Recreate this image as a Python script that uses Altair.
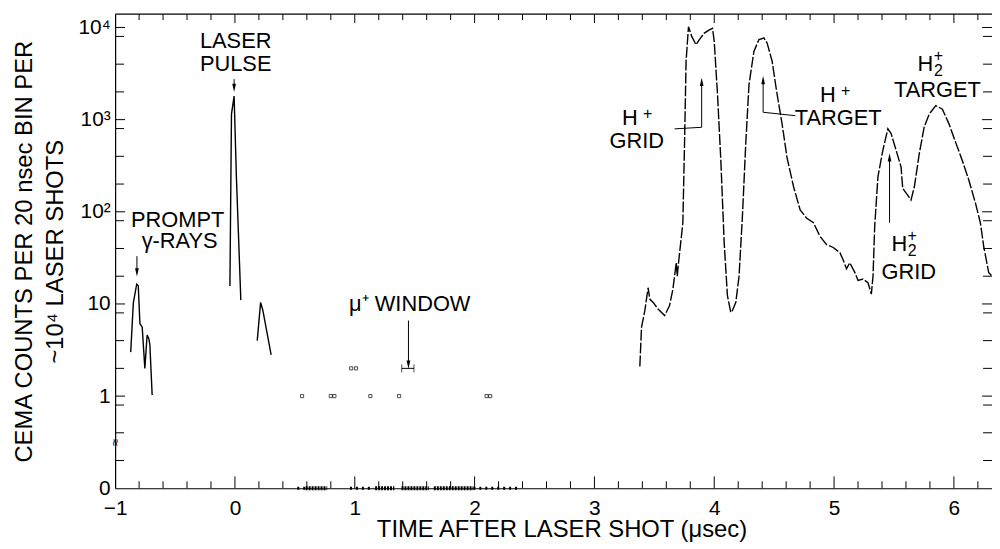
import altair as alt
import numpy as np
import pandas as pd

FONT = "Liberation Sans"
W, H = 884, 478

# ---------------- measured spectrum: time (µs) and counts per 20 ns bin ----------------
gamma_t = [-0.870, -0.848, -0.820, -0.807, -0.793, -0.774, -0.752, -0.733, -0.719, -0.710, -0.691]
gamma_c = [3.0, 10.3, 16.4, 15.7, 6.1, 5.6, 2.0, 4.6, 4.2, 3.6, 1.03]

laser_t = [-0.042, -0.029, -0.007, 0.012, 0.049]
laser_c = [15.7, 1150, 1800, 240, 11]

bump_t = [0.186, 0.214, 0.233, 0.302]
bump_c = [4.0, 10.4, 8.5, 2.8]

ion_t = [3.379, 3.393, 3.421, 3.448, 3.462, 3.490, 3.531, 3.586, 3.627, 3.655,
         3.683, 3.691, 3.702, 3.738, 3.752, 3.765, 3.785, 3.812, 3.848, 3.876,
         3.917, 3.959, 3.986, 4.000, 4.027, 4.055, 4.083, 4.110, 4.138, 4.152,
         4.180, 4.207, 4.235, 4.263, 4.290, 4.331, 4.373, 4.414, 4.441, 4.483,
         4.524, 4.566, 4.607, 4.662, 4.717, 4.772, 4.828, 4.883, 4.938, 4.993,
         5.049, 5.076, 5.104, 5.131, 5.173, 5.200, 5.242, 5.283, 5.311, 5.325,
         5.339, 5.366, 5.407, 5.449, 5.476, 5.518, 5.559, 5.573, 5.614, 5.642,
         5.670, 5.711, 5.752, 5.794, 5.849, 5.904, 5.959, 6.014, 6.070, 6.125,
         6.180, 6.221, 6.249, 6.290, 6.318]
ion_c = [2.1, 5.6, 8.5, 15, 11.3, 10.4, 8.8, 7.5, 9.6, 14.5,
         28, 20, 28, 76, 550, 4300, 10200, 8000, 6500, 7400,
         8700, 9400, 9800, 7000, 1900, 360, 46, 12.3, 8.1, 8.5,
         10.4, 20, 89, 550, 2400, 5500, 7400, 7700, 6800, 4300,
         1900, 900, 390, 187, 105, 85, 76, 54, 44, 41,
         36, 30, 24, 28, 22, 18, 18.6, 17, 12.8, 20,
         69, 240, 465, 795, 705, 465, 307, 179, 152, 134,
         187, 427, 830, 1150, 1420, 1300, 900, 570, 360, 220,
         124, 76, 42, 22, 20]

# sparse counts inside the muon window region
ones_t = [0.56, 0.80, 0.83, 1.13, 1.37, 2.10, 2.13]
twos_t = [0.97, 1.01]
zero_dense_start = [0.59, 1.17, 1.39, 1.66]
zero_dense_end = [0.77, 1.33, 1.62, 1.99]
zero_sparse_start = [0.52, 0.96, 1.99]
zero_sparse_end = [0.59, 1.16, 2.37]
window_start, window_end, window_level = 1.392, 1.494, 2

# ---------------- axes ----------------
x_domain = [-1, 6.318]
y_domain = [-1, 4.145]          # decades; zero counts drawn one decade below 1
x_major = [-1, 0, 1, 2, 3, 4, 5, 6]
x_minor = [-0.8, -0.6, -0.4, -0.2, 0.2, 0.4, 0.6, 0.8, 1.2, 1.4, 1.6, 1.8,
           2.2, 2.4, 2.6, 2.8, 3.2, 3.4, 3.6, 3.8, 4.2, 4.4, 4.6, 4.8,
           5.2, 5.4, 5.6, 5.8, 6.2]
y_major_counts = [1, 10, 100, 1000, 10000]
y_minor_counts = [0.2, 0.4, 0.8, 2, 4, 8, 20, 40, 80, 200, 400, 800, 2000, 4000, 8000]
y_label_pos = [-1, 0, 1, 2, 3, 4]
y_label_txt = ["0", "1", "10", "10²", "10³", "10⁴"]

# ---------------- annotations ----------------
ann_txt = ["LASER", "PULSE", "PROMPT", "γ-RAYS", "μ⁺ WINDOW", "H", "GRID", "H", "TARGET",
           "H", "GRID", "H", "TARGET"]
ann_t = [0.006, 0.006, -0.478, -0.462, 1.459, 3.296, 3.354, 4.948, 5.035,
         5.544, 5.623, 5.763, 5.863]
ann_c = [7060, 4055, 81, 48, 10, 1040, 590, 1830, 1050, 45, 22, 4055, 2075]
hplus_t = [3.296, 4.948]
hplus_c = [1040, 1830]
h2_t = [5.544, 5.763]
h2_c = [45, 4055]

arrow_id = ["laser", "laser", "prompt", "prompt", "mu", "mu",
            "hgrid", "hgrid", "hgrid", "htarget", "htarget", "htarget", "h2grid", "h2grid"]
arrow_t = [-0.007, -0.007, -0.818, -0.818, 1.448, 1.448,
           3.669, 3.895, 3.895, 4.676, 4.408, 4.408, 5.463, 5.463]
arrow_c = [2750, 2210, 33, 22, 6.6, 2.2,
           794, 826, 2565, 1104, 1202, 2690, 76, 389]
head_down_t = [-0.007, -0.818, 1.448]
head_down_c = [2210, 22, 2.2]
head_up_t = [3.895, 4.408, 5.463]
head_up_c = [2565, 2690, 389]


def dec(c):
    c = np.asarray(c, dtype=float)
    safe = np.where(c > 0, c, 1.0)
    return np.where(c > 0, np.log10(safe), -1.0)


label_expr = "".join(f"datum.value == {p} ? '{s}' : " for p, s in zip(y_label_pos, y_label_txt)) + "''"

x_axis = alt.Axis(values=x_major, format="d", ticks=False, grid=False, domain=True,
                  domainColor="black", domainWidth=1.2, labelFont=FONT, labelFontSize=21,
                  labelColor="black", labelPadding=9, labelFlush=False,
                  title="TIME AFTER LASER SHOT (μsec)", titleFont=FONT, titleFontSize=24,
                  titleFontWeight="normal", titleColor="black", titleBaseline="middle",
                  titleY=42, titleX=450)
y_axis = alt.Axis(values=y_label_pos, labelExpr=label_expr, ticks=False, grid=False, domain=True,
                  domainColor="black", domainWidth=1.2, labelFont=FONT, labelFontSize=21,
                  labelColor="black", labelPadding=5, labelFlush=False,
                  title=["CEMA COUNTS PER 20 nsec BIN PER", "~10⁴ LASER SHOTS"],
                  titleFont=FONT, titleFontSize=24, titleFontWeight="normal", titleColor="black",
                  titleAngle=270, titleBaseline="bottom", titleX=-79, titleY=H / 2,
                  titleLineHeight=31)

xs = alt.Scale(domain=x_domain, nice=False, zero=False)
ys = alt.Scale(domain=y_domain, nice=False, zero=False)


def X(f="t"):
    return alt.X(f"{f}:Q", scale=xs, axis=x_axis)


def Y(f="y"):
    return alt.Y(f"{f}:Q", scale=ys, axis=y_axis)


frames = []
for name, t, c in [("gamma", gamma_t, gamma_c), ("laser", laser_t, laser_c), ("bump", bump_t, bump_c)]:
    frames.append(pd.DataFrame({"t": t, "c": c, "seg": name}))
solid = pd.concat(frames, ignore_index=True)
solid["y"] = dec(solid["c"])
ion = pd.DataFrame({"t": ion_t, "c": ion_c, "seg": "ion"})
ion["y"] = dec(ion["c"])

base_line = alt.Chart(solid).mark_line(color="black", strokeWidth=1.4).encode(
    x=X(), y=Y(), detail="seg:N")
ion_line = alt.Chart(ion).mark_line(color="black", strokeWidth=1.4, strokeDash=[11, 2]).encode(
    x=X(), y=Y())

# sparse events
ev = pd.DataFrame({"t": ones_t + twos_t, "c": [1] * len(ones_t) + [2] * len(twos_t)})
ev["y"] = dec(ev["c"])
events = alt.Chart(ev).mark_point(shape="square", size=10, filled=False, color="black",
                                  strokeWidth=1).encode(x=X(), y=Y())
zd = pd.DataFrame({"t": zero_dense_start, "t2": zero_dense_end, "y": -1.0})
zeros_dense = alt.Chart(zd).mark_rule(color="black", strokeWidth=4, strokeDash=[2, 1]).encode(
    x=X(), x2="t2:Q", y=Y())
zs = pd.DataFrame({"t": zero_sparse_start, "t2": zero_sparse_end, "y": -1.0})
zeros_sparse = alt.Chart(zs).mark_rule(color="black", strokeWidth=3, strokeDash=[2, 4]).encode(
    x=X(), x2="t2:Q", y=Y())

# muon window bracket
wb = pd.DataFrame({"t": [window_start], "t2": [window_end], "y": dec([window_level])})
bracket = alt.Chart(wb).mark_rule(color="black", strokeWidth=1).encode(x=X(), x2="t2:Q", y=Y())
wc = pd.DataFrame({"t": [window_start, window_end], "y": list(dec([window_level, window_level]))})
caps = alt.Chart(wc).mark_point(shape="M0,-1L0,1", size=64, color="black", strokeWidth=1,
                                filled=False).encode(x=X(), y=Y())


# ticks (inward)
def vticks(vals, length, top):
    d = pd.DataFrame({"t": vals})
    y0, y1 = (0, length) if top else (H, H - length)
    return alt.Chart(d).mark_rule(color="black", strokeWidth=1).encode(
        x=X(), y=alt.value(y0), y2=alt.value(y1))


def hticks(vals, length, right):
    d = pd.DataFrame({"y": list(dec(vals))})
    x0, x1 = (W, W - length) if right else (0, length)
    return alt.Chart(d).mark_rule(color="black", strokeWidth=1).encode(
        y=Y(), x=alt.value(x0), x2=alt.value(x1))


ticks = [vticks(x_major[1:], 12, False), vticks(x_minor, 7, False),
         vticks(x_major[1:], 9, True), vticks(x_minor, 6, True),
         hticks(y_major_counts, 10, False), hticks(y_minor_counts, 9, False),
         hticks(y_major_counts, 10, True), hticks(y_minor_counts, 9, True)]

top_frame = alt.Chart(pd.DataFrame({"a": [0]})).mark_rule(color="black", strokeWidth=1.2).encode(
    x=alt.value(0), x2=alt.value(W), y=alt.value(0))

brk = alt.Chart(pd.DataFrame({"t": [-1.0], "y": [-0.5]})).mark_text(
    text="≈", angle=90, font=FONT, fontSize=13, color="black").encode(x=X(), y=Y())

# annotation texts
ann = pd.DataFrame({"t": ann_t, "c": ann_c, "txt": ann_txt})
ann["y"] = dec(ann["c"])
texts = alt.Chart(ann).mark_text(font=FONT, fontSize=22, color="black", baseline="middle",
                                 align="center").encode(x=X(), y=Y(), text="txt:N")
hp = pd.DataFrame({"t": hplus_t, "c": hplus_c})
hp["y"] = dec(hp["c"])
hplus = alt.Chart(hp).mark_text(text="+", font=FONT, fontSize=16, color="black", dx=18, dy=-4,
                                baseline="middle").encode(x=X(), y=Y())
h2 = pd.DataFrame({"t": h2_t, "c": h2_c})
h2["y"] = dec(h2["c"])
h2sub = alt.Chart(h2).mark_text(text="2", font=FONT, fontSize=16, color="black", dx=13, dy=7,
                                baseline="middle").encode(x=X(), y=Y())
h2sup = alt.Chart(h2).mark_text(text="+", font=FONT, fontSize=16, color="black", dx=13, dy=-8,
                                baseline="middle").encode(x=X(), y=Y())

# arrows
ar = pd.DataFrame({"t": arrow_t, "c": arrow_c, "id": arrow_id, "o": range(len(arrow_t))})
ar["y"] = dec(ar["c"])
shafts = alt.Chart(ar).mark_line(color="black", strokeWidth=1).encode(
    x=X(), y=Y(), detail="id:N", order="o:Q")
hd = pd.DataFrame({"t": head_down_t, "c": head_down_c})
hd["y"] = dec(hd["c"])
heads_down = alt.Chart(hd).mark_point(shape="M0,1L0.45,-1L-0.45,-1Z", size=70, filled=True,
                                      color="black", opacity=1).encode(x=X(), y=Y())
hu = pd.DataFrame({"t": head_up_t, "c": head_up_c})
hu["y"] = dec(hu["c"])
heads_up = alt.Chart(hu).mark_point(shape="M0,-1L0.45,1L-0.45,1Z", size=70, filled=True,
                                    color="black", opacity=1).encode(x=X(), y=Y())

chart = alt.layer(
    base_line, ion_line, events, zeros_dense, zeros_sparse, bracket, caps,
    *ticks, top_frame, brk, texts, hplus, h2sub, h2sup, shafts, heads_down, heads_up,
).properties(
    width=W, height=H,
    autosize=alt.AutoSizeParams(type="none"),
    padding={"left": 108, "top": 4, "right": 0, "bottom": 52},
    background="white",
).configure_view(stroke=None)

chart.save("out.html", embed_options={"renderer": "svg", "actions": False})
